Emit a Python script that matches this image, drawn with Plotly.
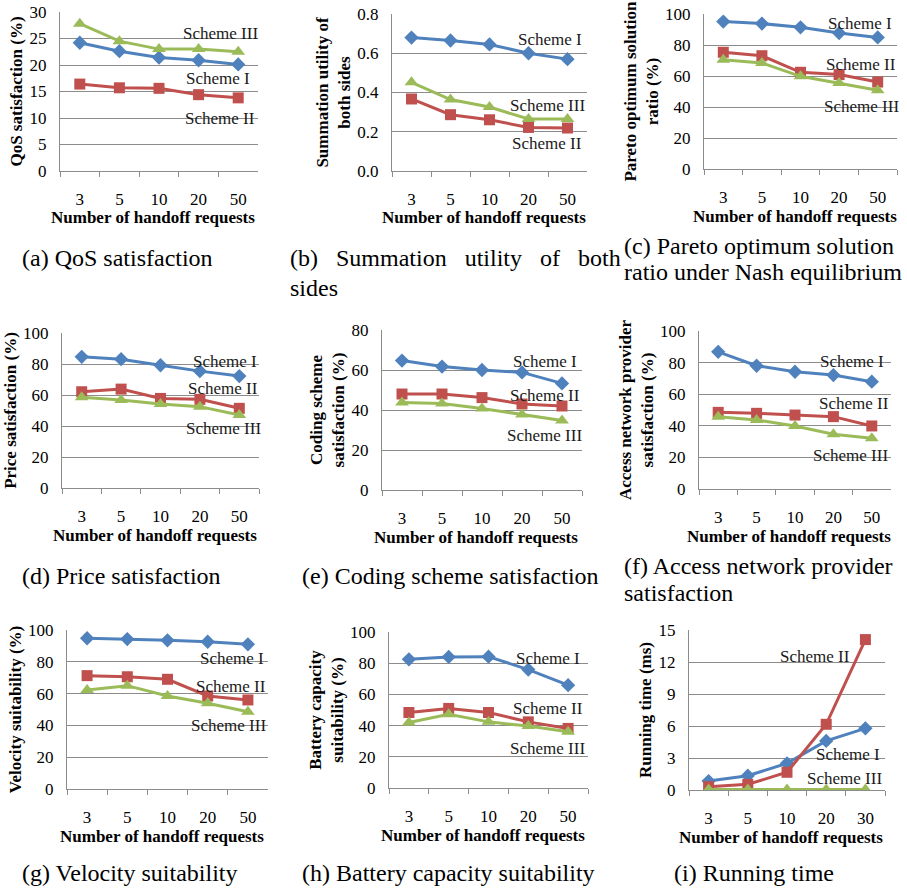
import plotly.graph_objects as go

# ---------------- data ----------------
categories = ["3", "5", "10", "20", "50"]
categories_time = ["3", "5", "10", "20", "30"]
scheme_names = ["Scheme I", "Scheme II", "Scheme III"]

qos_I = [24.2, 22.6, 21.4, 20.9, 20.1]
qos_II = [16.4, 15.7, 15.6, 14.4, 13.8]
qos_III = [27.8, 24.5, 23.0, 23.0, 22.5]

util_I = [0.68, 0.665, 0.645, 0.60, 0.57]
util_II = [0.367, 0.287, 0.261, 0.222, 0.219]
util_III = [0.452, 0.364, 0.326, 0.265, 0.265]

pareto_I = [95.1, 93.8, 91.4, 87.7, 84.9]
pareto_II = [75.3, 73.1, 62.4, 60.9, 56.1]
pareto_III = [70.5, 68.4, 59.8, 55.5, 50.8]

price_I = [84.6, 83.1, 79.2, 75.4, 72.2]
price_II = [62.1, 63.8, 57.8, 57.2, 51.4]
price_III = [58.5, 56.7, 54.2, 52.5, 47.1]

coding_I = [64.7, 61.7, 60.0, 58.8, 53.3]
coding_II = [48.0, 48.0, 46.2, 43.0, 42.0]
coding_III = [43.7, 43.3, 40.8, 37.8, 34.7]

access_I = [86.8, 78.0, 74.2, 72.1, 67.9]
access_II = [48.5, 47.9, 46.8, 45.8, 39.9]
access_III = [45.8, 43.7, 39.9, 34.7, 32.1]

velocity_I = [94.8, 94.3, 93.5, 92.6, 91.0]
velocity_II = [71.3, 70.6, 69.0, 58.5, 56.0]
velocity_III = [62.3, 65.0, 58.5, 53.9, 48.6]

battery_I = [82.5, 84.0, 84.2, 75.9, 65.9]
battery_II = [48.4, 51.0, 48.4, 42.4, 38.2]
battery_III = [42.0, 47.3, 42.4, 39.7, 36.0]

time_I = [0.84, 1.34, 2.5, 4.6, 5.78]
time_II = [0.31, 0.53, 1.66, 6.16, 14.1]
time_III = [0.05, 0.05, 0.05, 0.05, 0.05]

y_titles = [
    "QoS satisfaction (%)",
    "Summation utility of<br>both sides",
    "Pareto optimum solution<br>ratio (%)",
    "Price satisfaction (%)",
    "Coding scheme<br>satisfaction (%)",
    "Access network provider<br>satisfaction (%)",
    "Velocity suitability (%)",
    "Battery capacity<br>suitability (%)",
    "Running time (ms)",
]
x_title = "Number of handoff requests"
y_max = [30, 0.8, 100, 100, 80, 100, 100, 100, 15]
y_step = [5, 0.2, 20, 20, 20, 20, 20, 20, 3]
y_fmt = ["d", ".1f", "d", "d", "d", "d", "d", "d", "d"]

GAP = "\u00a0\u00a0 "
captions = [
    "(a) QoS satisfaction",
    "(b)" + GAP + "Summation" + GAP + "utility" + GAP + "of" + GAP + "both",
    "sides",
    "(c) Pareto optimum solution",
    "ratio under Nash equilibrium",
    "(d) Price satisfaction",
    "(e) Coding scheme satisfaction",
    "(f) Access network provider",
    "satisfaction",
    "(g) Velocity suitability",
    "(h) Battery capacity suitability",
    "(i) Running time",
]

series = [
    (qos_I, qos_II, qos_III),
    (util_I, util_II, util_III),
    (pareto_I, pareto_II, pareto_III),
    (price_I, price_II, price_III),
    (coding_I, coding_II, coding_III),
    (access_I, access_II, access_III),
    (velocity_I, velocity_II, velocity_III),
    (battery_I, battery_II, battery_III),
    (time_I, time_II, time_III),
]
x_cats = [categories] * 8 + [categories_time]

# ---------------- layout geometry (pixels) ----------------
W, H = 907, 889
boxes = [  # left, right, top, bottom
    (60, 258, 12, 171), (392, 587, 14, 171), (704, 897, 14, 169),
    (62, 259, 333, 488), (382, 582, 330, 490), (699, 891, 331, 489),
    (67, 268, 630, 789), (389, 588, 632, 788), (689, 885, 630, 790),
]
# scheme label centres in pixels: order Scheme I, II, III
label_pos = [
    [(218, 78), (220, 118), (220, 34)],
    [(550, 39), (547, 143), (547, 106)],
    [(860, 23), (861, 64), (861, 107)],
    [(225, 361), (223, 388), (223, 429)],
    [(545, 361), (545, 395), (544, 436)],
    [(852, 361), (854, 404), (850, 456)],
    [(232, 658), (231, 686), (228, 725)],
    [(548, 658), (548, 708), (547, 748)],
    [(848, 754), (815, 656), (844, 778)],
]
caption_pos = [
    (20, 258), (288, 258), (288, 288), (622, 246), (622, 272),
    (20, 576), (300, 576), (622, 566), (622, 593),
    (20, 873), (300, 873), (672, 873),
]

colors = ["#4F81BD", "#C0504D", "#9BBB59"]
symbols = ["diamond", "square", "triangle-up"]
msizes = [11, 11, 12]
FONT = "Liberation Serif"
GRID = "#8c8c8c"

fig = go.Figure()
layout = dict(
    width=W, height=H, margin=dict(l=0, r=0, t=0, b=0),
    paper_bgcolor="white", plot_bgcolor="white", showlegend=False,
    font=dict(family=FONT, color="black", size=17),
    template="none",
)
annotations = []
for i in range(9):
    n = "" if i == 0 else str(i + 1)
    L, R, T, B = boxes[i]
    for s in range(3):
        fig.add_trace(go.Scatter(
            x=x_cats[i], y=series[i][s], name=scheme_names[s],
            mode="lines+markers", xaxis="x" + n, yaxis="y" + n,
            line=dict(color=colors[s], width=3),
            marker=dict(symbol=symbols[s], size=msizes[s], color=colors[s]),
        ))
    layout["xaxis" + n] = dict(
        domain=[L / W, R / W], anchor="y" + n, type="category",
        range=[-0.5, 4.5], showgrid=False, zeroline=False,
        showline=True, linecolor=GRID, linewidth=1,
        ticks="outside", tickson="boundaries", ticklen=5, tickcolor=GRID,
        tickfont=dict(family=FONT, size=17, color="black"),
        ticklabelstandoff=13,
    )
    layout["yaxis" + n] = dict(
        domain=[1 - B / H, 1 - T / H], anchor="x" + n,
        range=[0, y_max[i]], dtick=y_step[i], tick0=0, tickformat=y_fmt[i],
        showgrid=True, gridcolor=GRID, gridwidth=1, zeroline=False,
        showline=True, linecolor=GRID, linewidth=1, ticks="",
        tickfont=dict(family=FONT, size=17, color="black"),
        ticklabelstandoff=9,
        title=dict(text="<b>" + y_titles[i] + "</b>", standoff=2,
                   font=dict(family=FONT, size=17, color="black")),
    )
    # x-axis title, placed under the category labels
    annotations.append(dict(
        text="<b>" + x_title + "</b>", x=((L + R) / 2 - 6) / W, y=1 - (B + 47) / H,
        xref="paper", yref="paper", showarrow=False,
        xanchor="center", yanchor="middle",
        font=dict(family=FONT, size=17, color="black"),
    ))
    for s in range(3):
        px, py = label_pos[i][s]
        annotations.append(dict(
            text=scheme_names[s], x=px / W, y=1 - py / H, xref="paper", yref="paper",
            showarrow=False, xanchor="center", yanchor="middle",
            font=dict(family=FONT, size=17, color="#1a1a1a"),
        ))

for c, (px, py) in zip(captions, caption_pos):
    annotations.append(dict(
        text=c, x=px / W, y=1 - py / H, xref="paper", yref="paper",
        showarrow=False, xanchor="left", yanchor="middle",
        font=dict(family=FONT, size=24, color="black"),
    ))

layout["annotations"] = annotations
fig.update_layout(**layout)
fig.write_html("out.html", config={"displayModeBar": False},
               post_script="document.body.style.margin='0';document.body.style.overflow='hidden';")
